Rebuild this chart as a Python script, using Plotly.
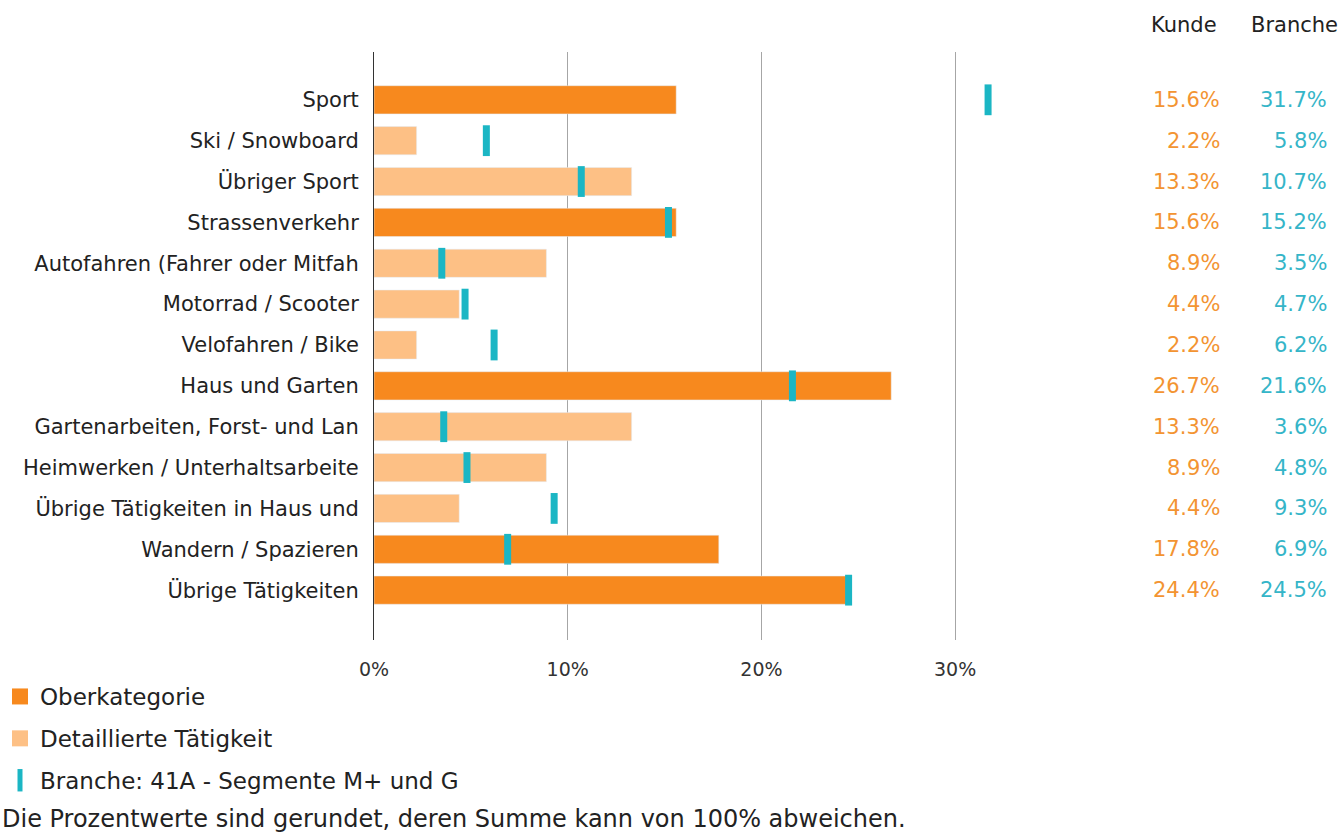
import plotly.graph_objects as go

categories = ["Sport", "Ski / Snowboard", "Übriger Sport", "Strassenverkehr",
              "Autofahren (Fahrer oder Mitfah", "Motorrad / Scooter", "Velofahren / Bike",
              "Haus und Garten", "Gartenarbeiten, Forst- und Lan", "Heimwerken / Unterhaltsarbeite",
              "Übrige Tätigkeiten in Haus und", "Wandern / Spazieren", "Übrige Tätigkeiten"]
kunde = [15.6, 2.2, 13.3, 15.6, 8.9, 4.4, 2.2, 26.7, 13.3, 8.9, 4.4, 17.8, 24.4]
branche = [31.7, 5.8, 10.7, 15.2, 3.5, 4.7, 6.2, 21.6, 3.6, 4.8, 9.3, 6.9, 24.5]
is_top = [True, False, False, True, False, False, False, True, False, False, False, True, True]
x_ticks = [0, 10, 20, 30]
x_tick_labels = ["0%", "10%", "20%", "30%"]

ORANGE = "#F7891E"
LIGHT = "#FDC085"
TEAL = "#1BB6C4"
KTXT = "#F39432"
BTXT = "#35B5C8"
FONT = "DejaVu Sans, Liberation Sans, Arial, sans-serif"

fig = go.Figure()
top_cats = [c for c, t in zip(categories, is_top) if t]
top_vals = [v for v, t in zip(kunde, is_top) if t]
det_cats = [c for c, t in zip(categories, is_top) if not t]
det_vals = [v for v, t in zip(kunde, is_top) if not t]

fig.add_trace(go.Bar(y=top_cats, x=top_vals, orientation="h", marker_color=ORANGE,
                     width=0.69, name="Oberkategorie", showlegend=False))
fig.add_trace(go.Bar(y=det_cats, x=det_vals, orientation="h", marker_color=LIGHT,
                     width=0.69, name="Detaillierte Tätigkeit", showlegend=False))
fig.add_trace(go.Scatter(y=categories, x=branche, mode="markers",
                         marker=dict(symbol="line-ns", size=22, color=TEAL,
                                     line=dict(color=TEAL, width=7)),
                         name="Branche: 41A - Segmente M+ und G", showlegend=False))

# legend entries
fig.add_trace(go.Scatter(x=[None], y=[None], mode="markers", name="Oberkategorie",
                         marker=dict(symbol="square", size=16, color=ORANGE), legendgroup="a"))
fig.add_trace(go.Scatter(x=[None], y=[None], mode="markers", name="Detaillierte Tätigkeit",
                         marker=dict(symbol="square", size=16, color=LIGHT), legendgroup="b"))
fig.add_trace(go.Scatter(x=[None], y=[None], mode="markers", name="Branche: 41A - Segmente M+ und G",
                         marker=dict(symbol="line-ns", size=16, color=TEAL,
                                     line=dict(color=TEAL, width=5)), legendgroup="c"))

W, H = 1343, 834
ML, MR, MT, MB = 374, 291, 52, 194
px_w = W - ML - MR
px_h = H - MT - MB
def px_to_paper_x(px):
    return (px - ML) / px_w
def px_to_paper_y(py):
    return (H - MB - py) / px_h

ann = []
for c, k, b in zip(categories, kunde, branche):
    ann.append(dict(x=px_to_paper_x(1222), xref="paper", y=c, yref="y", text=f"{k:.1f}%",
                    xanchor="right", showarrow=False, font=dict(color=KTXT, size=21, family=FONT)))
    ann.append(dict(x=px_to_paper_x(1329), xref="paper", y=c, yref="y", text=f"{b:.1f}%",
                    xanchor="right", showarrow=False, font=dict(color=BTXT, size=21, family=FONT)))
ann.append(dict(x=px_to_paper_x(1219), xref="paper", y=px_to_paper_y(25), yref="paper", text="Kunde",
                xanchor="right", yanchor="middle", showarrow=False,
                font=dict(color="#222222", size=21, family=FONT)))
ann.append(dict(x=px_to_paper_x(1340), xref="paper", y=px_to_paper_y(25), yref="paper", text="Branche",
                xanchor="right", yanchor="middle", showarrow=False,
                font=dict(color="#222222", size=21, family=FONT)))
ann.append(dict(x=px_to_paper_x(0), xref="paper", y=px_to_paper_y(819), yref="paper",
                text="Die Prozentwerte sind gerundet, deren Summe kann von 100% abweichen.",
                xanchor="left", yanchor="middle", showarrow=False,
                font=dict(color="#222222", size=24, family=FONT)))

fig.update_layout(
    width=W, height=H,
    margin=dict(l=ML, r=MR, t=MT, b=MB, autoexpand=False),
    plot_bgcolor="white", paper_bgcolor="white",
    barmode="overlay",
    font=dict(family=FONT, size=21, color="#222222"),
    showlegend=True,
    legend=dict(x=px_to_paper_x(0), xanchor="left", y=px_to_paper_y(675), yanchor="top",
                orientation="v", tracegroupgap=9, font=dict(size=23, color="#222222", family=FONT),
                bgcolor="rgba(0,0,0,0)", itemwidth=30),
    annotations=ann,
    xaxis=dict(range=[0, 35], tickvals=x_ticks, ticktext=x_tick_labels, showgrid=True,
               gridcolor="#A6A6A6", gridwidth=1, zeroline=False, showline=False,
               tickfont=dict(size=19, color="#333333"), ticks="", ticklabelstandoff=16,
               automargin=False),
    yaxis=dict(categoryorder="array", categoryarray=categories, range=[12 + 1.22, -1.17],
               showline=True, linecolor="#333333", linewidth=1, showgrid=False,
               ticks="", ticklabelstandoff=10, tickfont=dict(size=21, color="#222222"),
               automargin=False),
)

fig.write_html("out.html", config={"displayModeBar": False},
               post_script="document.body.style.margin='0';")
